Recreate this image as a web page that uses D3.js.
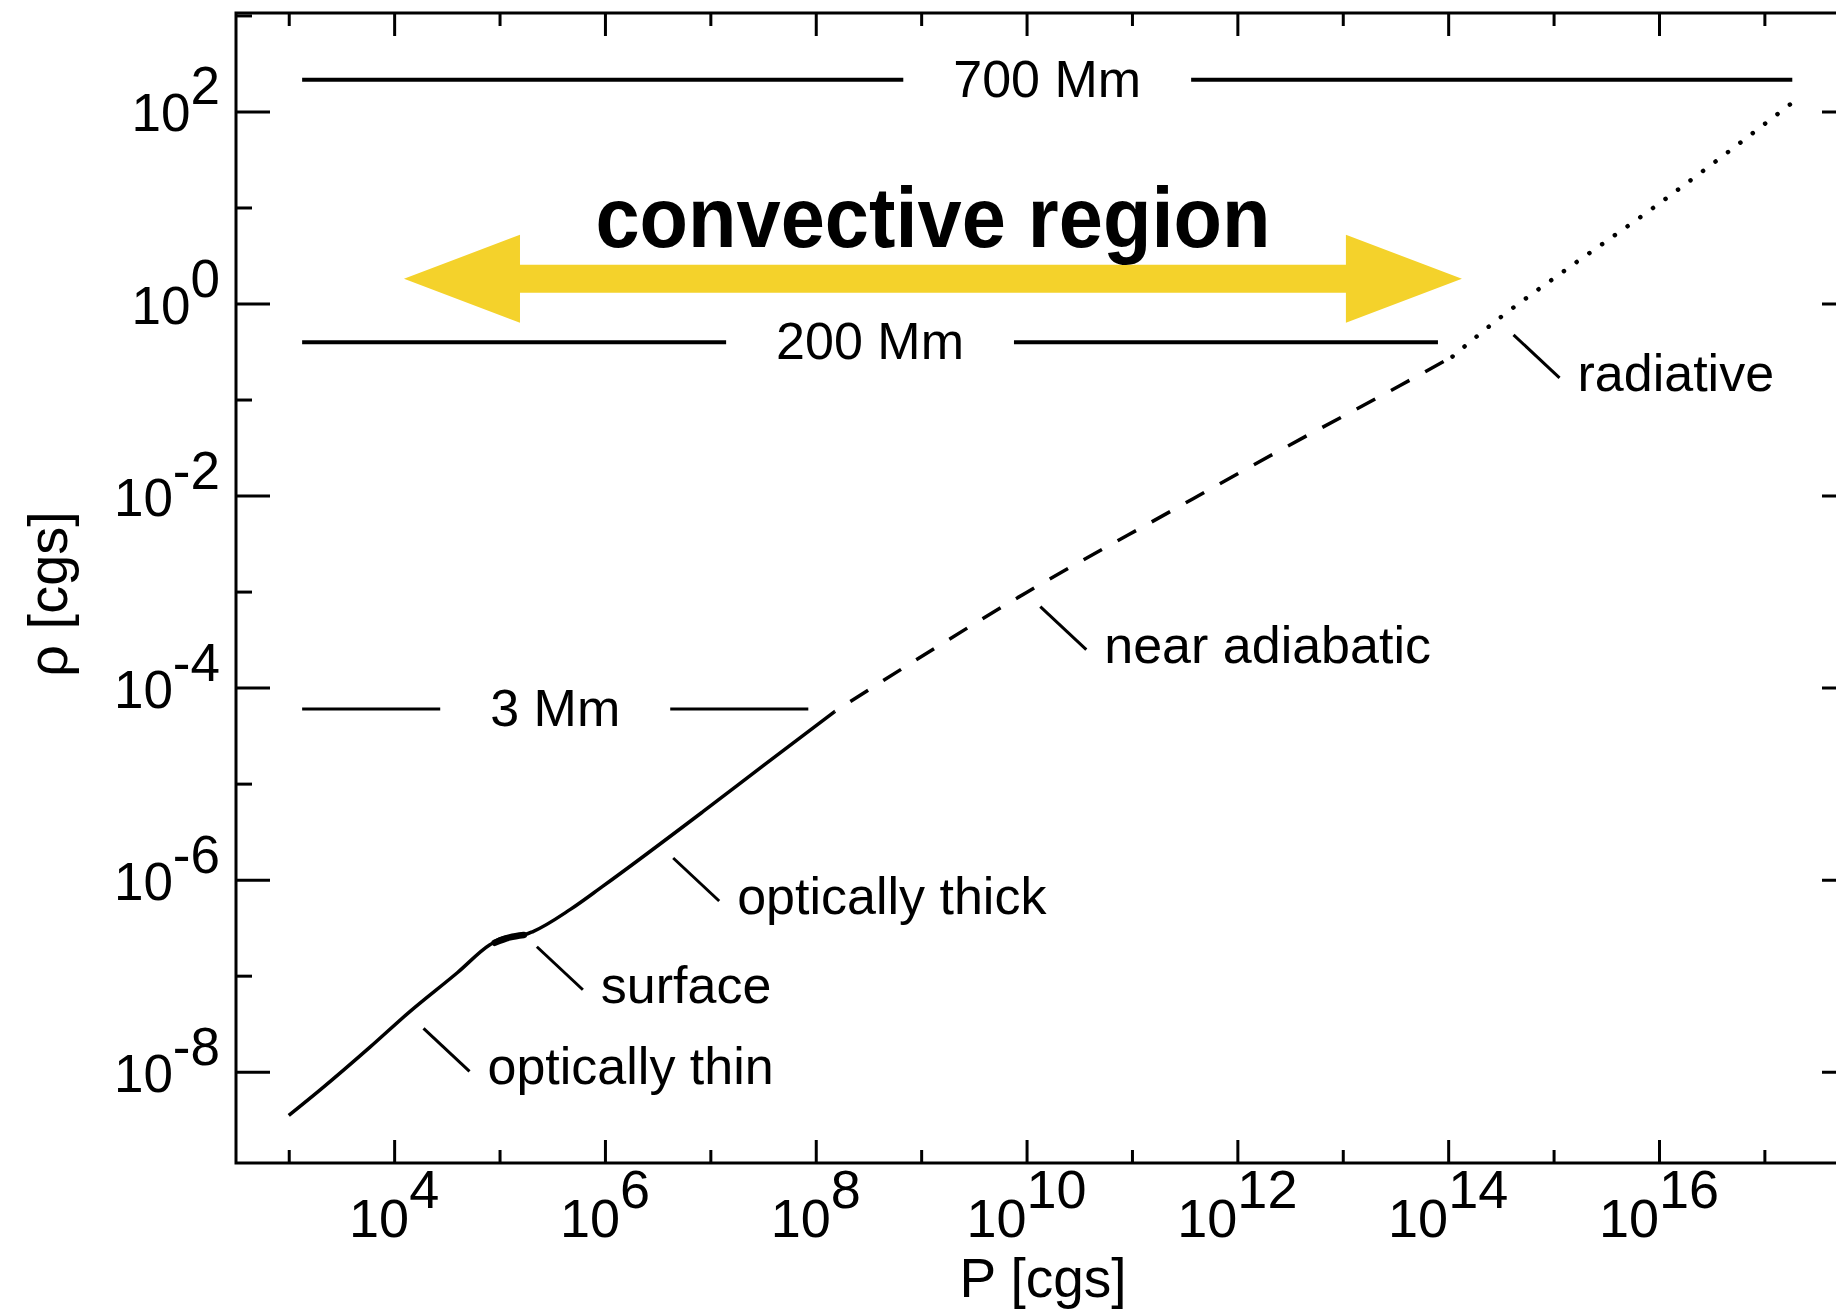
<!DOCTYPE html>
<html>
<head>
<meta charset="utf-8">
<script src="https://cdn.jsdelivr.net/npm/d3@7"></script>
<style>
  body { margin: 0; background: #fff; }
  text { font-family: "Liberation Sans", Arial, Helvetica, sans-serif; fill: #000; }
</style>
</head>
<body>
<div id="chart"></div>
<script>
// axis extents (cgs), the right edge of the frame is cut off in the original
const xExtent = [3.16e2, 7.4e17];
const yExtent = [1.12e-9, 1.06e3];

// tick exponents
const xMajorExp = [4, 6, 8, 10, 12, 14, 16];
const xMinorExp = [3, 5, 7, 9, 11, 13, 15, 17];
const yMajorExp = [-8, -6, -4, -2, 0, 2];
const yMinorExp = [-7, -5, -3, -1, 1, 3];

// rho(P) curve, three regimes
const solidP   = [1.0e3, 2.0e3, 5.9e3, 1.4e4, 4.0e4, 8.1e4, 1.1e5, 1.6e5, 2.1e5, 4.7e5, 9.5e5, 8.5e6, 3.2e7, 1.5e8];
const solidRho = [3.5e-9, 6.5e-9, 1.8e-8, 4.2e-8, 1.08e-7, 2.1e-7, 2.5e-7, 2.6e-7, 2.9e-7, 4.9e-7, 8.5e-7, 5.1e-6, 1.55e-5, 5.6e-5];
const surfaceP   = [9.0e4, 1.25e5, 1.7e5];
const surfaceRho = [2.2e-7, 2.5e-7, 2.65e-7];
const dashedP   = [1.5e8, 1.0e10, 2.3e11, 2.6e12, 3.5e13, 1.1e14];
const dashedRho = [5.6e-5, 9.8e-4, 6.8e-3, 3.0e-2, 0.14, 0.28];
const dottedP   = [1.1e14, 3.1e14, 1.2e15, 8.7e15, 2.1e17];
const dottedRho = [0.28, 0.71, 2.1, 9.8, 138];

// depth bars
const barLabels = ["700 Mm", "200 Mm", "3 Mm"];
const barP0  = [1.34e3, 1.34e3, 1.34e3];
const barP1  = [1.84e17, 8.0e13, 8.5e7];
const barRho = [214, 0.396, 6.0e-5];

// labelled regimes (leader start point)
const noteLabels = ["optically thin", "surface", "optically thick", "near adiabatic", "radiative"];
const noteP   = [1.9e4, 2.26e5, 4.44e6, 1.35e10, 4.17e14];
const noteRho = [2.83e-8, 2.0e-7, 1.68e-6, 6.98e-4, 0.472];

// convective region arrow
const convP = [1.24e4, 1.35e14];
const convRho = 1.81;

const W = 1836, H = 1309;
const frameL = 236, frameT = 13, frameR = 1856, frameB = 1163;

const svg = d3.select("#chart").append("svg")
    .attr("width", W)
    .attr("height", H);

const x = d3.scaleLog().domain(xExtent).range([frameL, frameR]);
const y = d3.scaleLog().domain(yExtent).range([frameB, frameT]);

const pw = e => Math.pow(10, e);

// ticks on all four sides, pointing inwards
function tickAxis(axis, vals, len, tr) {
    const g = svg.append("g")
        .attr("transform", tr)
        .call(axis.tickValues(vals.map(pw)).tickSize(-len).tickFormat(""));
    g.select(".domain").remove();
    g.selectAll("line").attr("stroke", "#000").attr("stroke-width", 3);
}
tickAxis(d3.axisBottom(x), xMajorExp, 23, `translate(0,${frameB})`);
tickAxis(d3.axisBottom(x), xMinorExp, 13, `translate(0,${frameB})`);
tickAxis(d3.axisTop(x), xMajorExp, 23, `translate(0,${frameT})`);
tickAxis(d3.axisTop(x), xMinorExp, 13, `translate(0,${frameT})`);
tickAxis(d3.axisLeft(y), yMajorExp, 34, `translate(${frameL},0)`);
tickAxis(d3.axisLeft(y), yMinorExp, 16, `translate(${frameL},0)`);
tickAxis(d3.axisRight(y), yMajorExp, 34, `translate(${frameR},0)`);
tickAxis(d3.axisRight(y), yMinorExp, 16, `translate(${frameR},0)`);

svg.append("rect")
    .attr("x", frameL).attr("y", frameT)
    .attr("width", frameR - frameL).attr("height", frameB - frameT)
    .attr("fill", "none").attr("stroke", "#000").attr("stroke-width", 3);

// tick labels 10^n
xMajorExp.forEach(e => {
    const t = svg.append("text")
        .attr("x", x(pw(e))).attr("y", 1237)
        .attr("text-anchor", "middle")
        .style("font-size", "54px");
    t.append("tspan").text("10");
    t.append("tspan").attr("dy", -29).text(e);
});
yMajorExp.forEach(e => {
    const t = svg.append("text")
        .attr("x", 220).attr("y", y(pw(e)) + 20)
        .attr("text-anchor", "end")
        .style("font-size", "53px");
    t.append("tspan").text("10");
    t.append("tspan").attr("dy", -27).text(e);
});

// axis titles
svg.append("text")
    .attr("x", 1043).attr("y", 1297)
    .attr("text-anchor", "middle")
    .style("font-size", "55px")
    .text("P [cgs]");
svg.append("text")
    .attr("transform", "translate(67,594) rotate(-90)")
    .attr("text-anchor", "middle")
    .style("font-size", "56px")
    .text("\u03c1 [cgs]");

// curve
const line = d3.line()
    .x(d => x(d[0]))
    .y(d => y(d[1]))
    .curve(d3.curveMonotoneX);

svg.append("path")
    .attr("d", line(d3.zip(solidP, solidRho)))
    .attr("fill", "none").attr("stroke", "#000").attr("stroke-width", 3.5);
svg.append("path")
    .attr("d", line(d3.zip(surfaceP, surfaceRho)))
    .attr("fill", "none").attr("stroke", "#000").attr("stroke-width", 6.5)
    .attr("stroke-linecap", "round");
svg.append("path")
    .attr("d", line(d3.zip(dashedP, dashedRho)))
    .attr("fill", "none").attr("stroke", "#000").attr("stroke-width", 3.5)
    .attr("stroke-dasharray", "21,18").attr("stroke-dashoffset", -19);
svg.append("path")
    .attr("d", line(d3.zip(dottedP, dottedRho)))
    .attr("fill", "none").attr("stroke", "#000").attr("stroke-width", 4.5)
    .attr("stroke-linecap", "round")
    .attr("stroke-dasharray", "0.1,15.5");

// depth bars with centred labels
barLabels.forEach((lab, i) => {
    const x0 = x(barP0[i]), x1 = x(barP1[i]), yb = y(barRho[i]);
    const cx = (x0 + x1) / 2;
    const t = svg.append("text")
        .attr("x", cx).attr("y", yb + 17)
        .attr("text-anchor", "middle")
        .style("font-size", "52px")
        .text(lab);
    const half = t.node().getComputedTextLength() / 2 + 50;
    const sw = i === 2 ? 3 : 4;
    [[x0, cx - half], [cx + half, x1]].forEach(seg => {
        svg.append("line")
            .attr("x1", seg[0]).attr("x2", seg[1])
            .attr("y1", yb).attr("y2", yb)
            .attr("stroke", "#000").attr("stroke-width", sw);
    });
});

// leader lines and notes
noteLabels.forEach((lab, i) => {
    const px = x(noteP[i]), py = y(noteRho[i]);
    svg.append("line")
        .attr("x1", px).attr("y1", py)
        .attr("x2", px + 46).attr("y2", py + 43)
        .attr("stroke", "#000").attr("stroke-width", 3);
    svg.append("text")
        .attr("x", px + 64).attr("y", py + 56)
        .style("font-size", "52px")
        .text(lab);
});

// convective region double arrow
const ax0 = x(convP[0]), ax1 = x(convP[1]), ay = y(convRho);
const hl = 116, hh = 44, sh = 14;
const pts = [
    [ax0, ay], [ax0 + hl, ay - hh], [ax0 + hl, ay - sh], [ax1 - hl, ay - sh],
    [ax1 - hl, ay - hh], [ax1, ay], [ax1 - hl, ay + hh], [ax1 - hl, ay + sh],
    [ax0 + hl, ay + sh], [ax0 + hl, ay + hh]
];
svg.append("polygon")
    .attr("points", pts.map(p => p.join(",")).join(" "))
    .attr("fill", "#f4d22b");

svg.append("text")
    .attr("x", (ax0 + ax1) / 2).attr("y", ay - 32)
    .attr("text-anchor", "middle")
    .attr("textLength", 675)
    .attr("lengthAdjust", "spacingAndGlyphs")
    .style("font-size", "86px")
    .style("font-weight", "bold")
    .text("convective region");
</script>
</body>
</html>
